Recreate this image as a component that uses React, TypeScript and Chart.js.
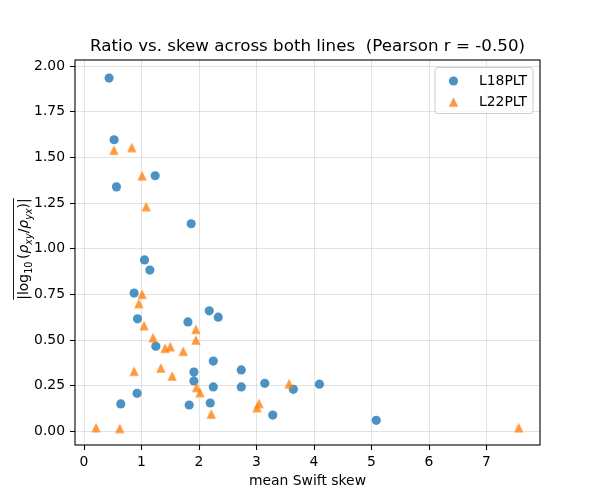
import React, { useEffect, useRef } from "react";
import { Chart, registerables } from "chart.js";

Chart.register(...registerables);

// ---- data ----
const seriesNames = ["L18PLT", "L22PLT"];

const l18X = [0.436, 0.523, 0.564, 1.237, 1.864, 1.052, 1.145, 0.871, 0.93, 1.807, 2.178, 2.334, 1.249, 2.248, 2.735, 1.911, 1.911, 2.248, 2.735, 0.923, 0.639, 1.829, 2.195, 3.143, 3.282, 3.641, 4.094, 5.082];
const l18Y = [1.935, 1.597, 1.339, 1.40, 1.137, 0.939, 0.883, 0.757, 0.616, 0.599, 0.66, 0.625, 0.466, 0.385, 0.336, 0.325, 0.276, 0.243, 0.243, 0.208, 0.15, 0.144, 0.155, 0.263, 0.089, 0.23, 0.258, 0.06];

const l22X = [0.52, 0.83, 1.01, 1.08, 1.01, 0.953, 1.045, 1.946, 1.946, 1.2, 1.41, 1.5, 1.725, 0.871, 1.336, 1.533, 1.958, 2.016, 2.213, 0.209, 0.622, 3.044, 3.009, 3.566, 7.56];
const l22Y = [1.54, 1.555, 1.40, 1.231, 0.751, 0.70, 0.579, 0.559, 0.50, 0.513, 0.455, 0.464, 0.439, 0.329, 0.347, 0.303, 0.241, 0.212, 0.095, 0.02, 0.016, 0.153, 0.13, 0.261, 0.02];

const xTicks = [0, 1, 2, 3, 4, 5, 6, 7];
const yTicks = [0, 0.25, 0.5, 0.75, 1.0, 1.25, 1.5, 1.75, 2.0];

const titleText = "Ratio vs. skew across both lines  (Pearson r = -0.50)";
const xLabelText = "mean Swift skew";

const FONT = "'DejaVu Sans', sans-serif";
const BLUE = "rgba(31,119,180,0.8)";
const ORANGE = "rgba(255,127,14,0.8)";

function makeTriangle(size: number, color: string): HTMLCanvasElement {
  const c = document.createElement("canvas");
  const dim = Math.ceil(size) + 2;
  c.width = dim;
  c.height = dim;
  const g = c.getContext("2d")!;
  const cx = dim / 2, cy = dim / 2, h = size / 2;
  g.fillStyle = color;
  g.beginPath();
  g.moveTo(cx, cy - h);
  g.lineTo(cx - h, cy + h);
  g.lineTo(cx + h, cy + h);
  g.closePath();
  g.fill();
  return c;
}

function drawYLabel(ctx: CanvasRenderingContext2D, cx: number, cy: number) {
  const size = 13.9;
  const sub = 9.7;
  type Seg = { t: string; f: string; dy: number; gap?: number };
  const n = `${size}px ${FONT}`;
  const it = `italic ${size}px ${FONT}`;
  const s = `${sub}px ${FONT}`;
  const si = `italic ${sub}px ${FONT}`;
  const segs: Seg[] = [
    { t: "|log", f: n, dy: 0 },
    { t: "10", f: s, dy: 3.5, gap: 2.5 },
    { t: "(", f: n, dy: 0 },
    { t: "ρ", f: it, dy: 0 },
    { t: "xy", f: si, dy: 3.5 },
    { t: "/", f: n, dy: 0 },
    { t: "ρ", f: it, dy: 0 },
    { t: "yx", f: si, dy: 3.5 },
    { t: ")|", f: n, dy: 0 },
  ];
  ctx.save();
  ctx.translate(cx, cy);
  ctx.rotate(-Math.PI / 2);
  let total = 0;
  const widths: number[] = [];
  for (const sg of segs) {
    ctx.font = sg.f;
    const w = ctx.measureText(sg.t).width + (sg.gap || 0);
    widths.push(w);
    total += w;
  }
  let x = -total / 2;
  ctx.fillStyle = "#000";
  ctx.textBaseline = "alphabetic";
  ctx.textAlign = "left";
  segs.forEach((sg, i) => {
    ctx.font = sg.f;
    ctx.fillText(sg.t, x, sg.dy);
    x += widths[i];
  });
  // overline
  ctx.strokeStyle = "#000";
  ctx.lineWidth = 0.9;
  ctx.beginPath();
  ctx.moveTo(-total / 2, -14.5);
  ctx.lineTo(total / 2, -14.5);
  ctx.stroke();
  ctx.restore();
}

const decor = {
  id: "decor",
  afterDraw(chart: any) {
    const { ctx, chartArea } = chart;
    const { left, right, top, bottom } = chartArea;
    ctx.save();
    // frame
    ctx.strokeStyle = "#000";
    ctx.lineWidth = 1.1;
    ctx.strokeRect(left, top, right - left, bottom - top);
    // title
    ctx.fillStyle = "#000";
    ctx.font = `16.7px ${FONT}`;
    ctx.textAlign = "center";
    ctx.textBaseline = "alphabetic";
    ctx.fillText(titleText, (left + right) / 2, 51);
    // x label
    ctx.font = `13.9px ${FONT}`;
    ctx.textBaseline = "middle";
    ctx.fillText(xLabelText, (left + right) / 2, 481);
    // y label
    drawYLabel(ctx, 28, 249);
    // legend
    const lx = 435, ly = 67.5, lw = 98, lh = 46, r = 3;
    ctx.beginPath();
    ctx.moveTo(lx + r, ly);
    ctx.lineTo(lx + lw - r, ly);
    ctx.quadraticCurveTo(lx + lw, ly, lx + lw, ly + r);
    ctx.lineTo(lx + lw, ly + lh - r);
    ctx.quadraticCurveTo(lx + lw, ly + lh, lx + lw - r, ly + lh);
    ctx.lineTo(lx + r, ly + lh);
    ctx.quadraticCurveTo(lx, ly + lh, lx, ly + lh - r);
    ctx.lineTo(lx, ly + r);
    ctx.quadraticCurveTo(lx, ly, lx + r, ly);
    ctx.closePath();
    ctx.fillStyle = "rgba(255,255,255,0.8)";
    ctx.fill();
    ctx.strokeStyle = "#cccccc";
    ctx.lineWidth = 1;
    ctx.stroke();
    // legend markers
    ctx.fillStyle = BLUE;
    ctx.beginPath();
    ctx.arc(453.5, 81, 4.6, 0, Math.PI * 2);
    ctx.fill();
    ctx.fillStyle = ORANGE;
    ctx.beginPath();
    ctx.moveTo(453.5, 102 - 4.7);
    ctx.lineTo(453.5 - 4.7, 102 + 4.7);
    ctx.lineTo(453.5 + 4.7, 102 + 4.7);
    ctx.closePath();
    ctx.fill();
    ctx.fillStyle = "#000";
    ctx.font = `13.9px ${FONT}`;
    ctx.textAlign = "left";
    ctx.textBaseline = "middle";
    ctx.fillText(seriesNames[0], 479, 81);
    ctx.fillText(seriesNames[1], 479, 102);
    ctx.restore();
  },
};

export default function App() {
  const ref = useRef<HTMLCanvasElement | null>(null);

  useEffect(() => {
    document.body.style.margin = "0";
    const canvas = ref.current!;
    const tri = makeTriangle(9.4, ORANGE);
    const gridColor = "rgba(176,176,176,0.35)";
    const chart = new Chart(canvas, {
      type: "scatter",
      data: {
        datasets: [
          {
            label: seriesNames[0],
            data: l18X.map((x, i) => ({ x, y: l18Y[i] })),
            pointStyle: "circle",
            pointRadius: 4.6,
            pointBorderWidth: 0,
            backgroundColor: BLUE,
            borderColor: BLUE,
            order: 1,
          },
          {
            label: seriesNames[1],
            data: l22X.map((x, i) => ({ x, y: l22Y[i] })),
            pointStyle: tri as any,
            pointRadius: 5,
            pointBorderWidth: 0,
            backgroundColor: ORANGE,
            borderColor: ORANGE,
            order: 0,
          },
        ],
      },
      options: {
        animation: false,
        responsive: false,
        devicePixelRatio: 1,
        layout: { padding: { top: 60, right: 60, left: 0, bottom: 0 } },
        plugins: {
          legend: { display: false },
          tooltip: { enabled: false },
          title: { display: false },
        },
        events: [],
        scales: {
          x: {
            type: "linear",
            min: -0.157,
            max: 7.93,
            afterBuildTicks: (scale: any) => {
              scale.ticks = xTicks.map((v) => ({ value: v }));
            },
            afterFit: (scale: any) => {
              scale.height = 55;
            },
            grid: {
              color: gridColor,
              lineWidth: 1,
              drawTicks: true,
              tickLength: 5,
              tickColor: "#000",
              tickWidth: 1.1,
            },
            border: { display: false },
            ticks: {
              padding: 4,
              color: "#000",
              font: { family: FONT, size: 13.9 },
              maxRotation: 0,
              callback: (v: any) => String(v),
            },
          },
          y: {
            type: "linear",
            min: -0.075,
            max: 2.034,
            afterBuildTicks: (scale: any) => {
              scale.ticks = yTicks.map((v) => ({ value: v }));
            },
            afterFit: (scale: any) => {
              scale.width = 75;
            },
            grid: {
              color: gridColor,
              lineWidth: 1,
              drawTicks: true,
              tickLength: 5,
              tickColor: "#000",
              tickWidth: 1.1,
            },
            border: { display: false },
            ticks: {
              padding: 5,
              color: "#000",
              font: { family: FONT, size: 13.9 },
              callback: (v: any) => Number(v).toFixed(2),
            },
          },
        },
      },
      plugins: [decor],
    });
    return () => chart.destroy();
  }, []);

  return (
    <div style={{ width: 600, height: 500, background: "#fff" }}>
      <canvas ref={ref} width={600} height={500} style={{ width: 600, height: 500, display: "block" }} />
    </div>
  );
}
